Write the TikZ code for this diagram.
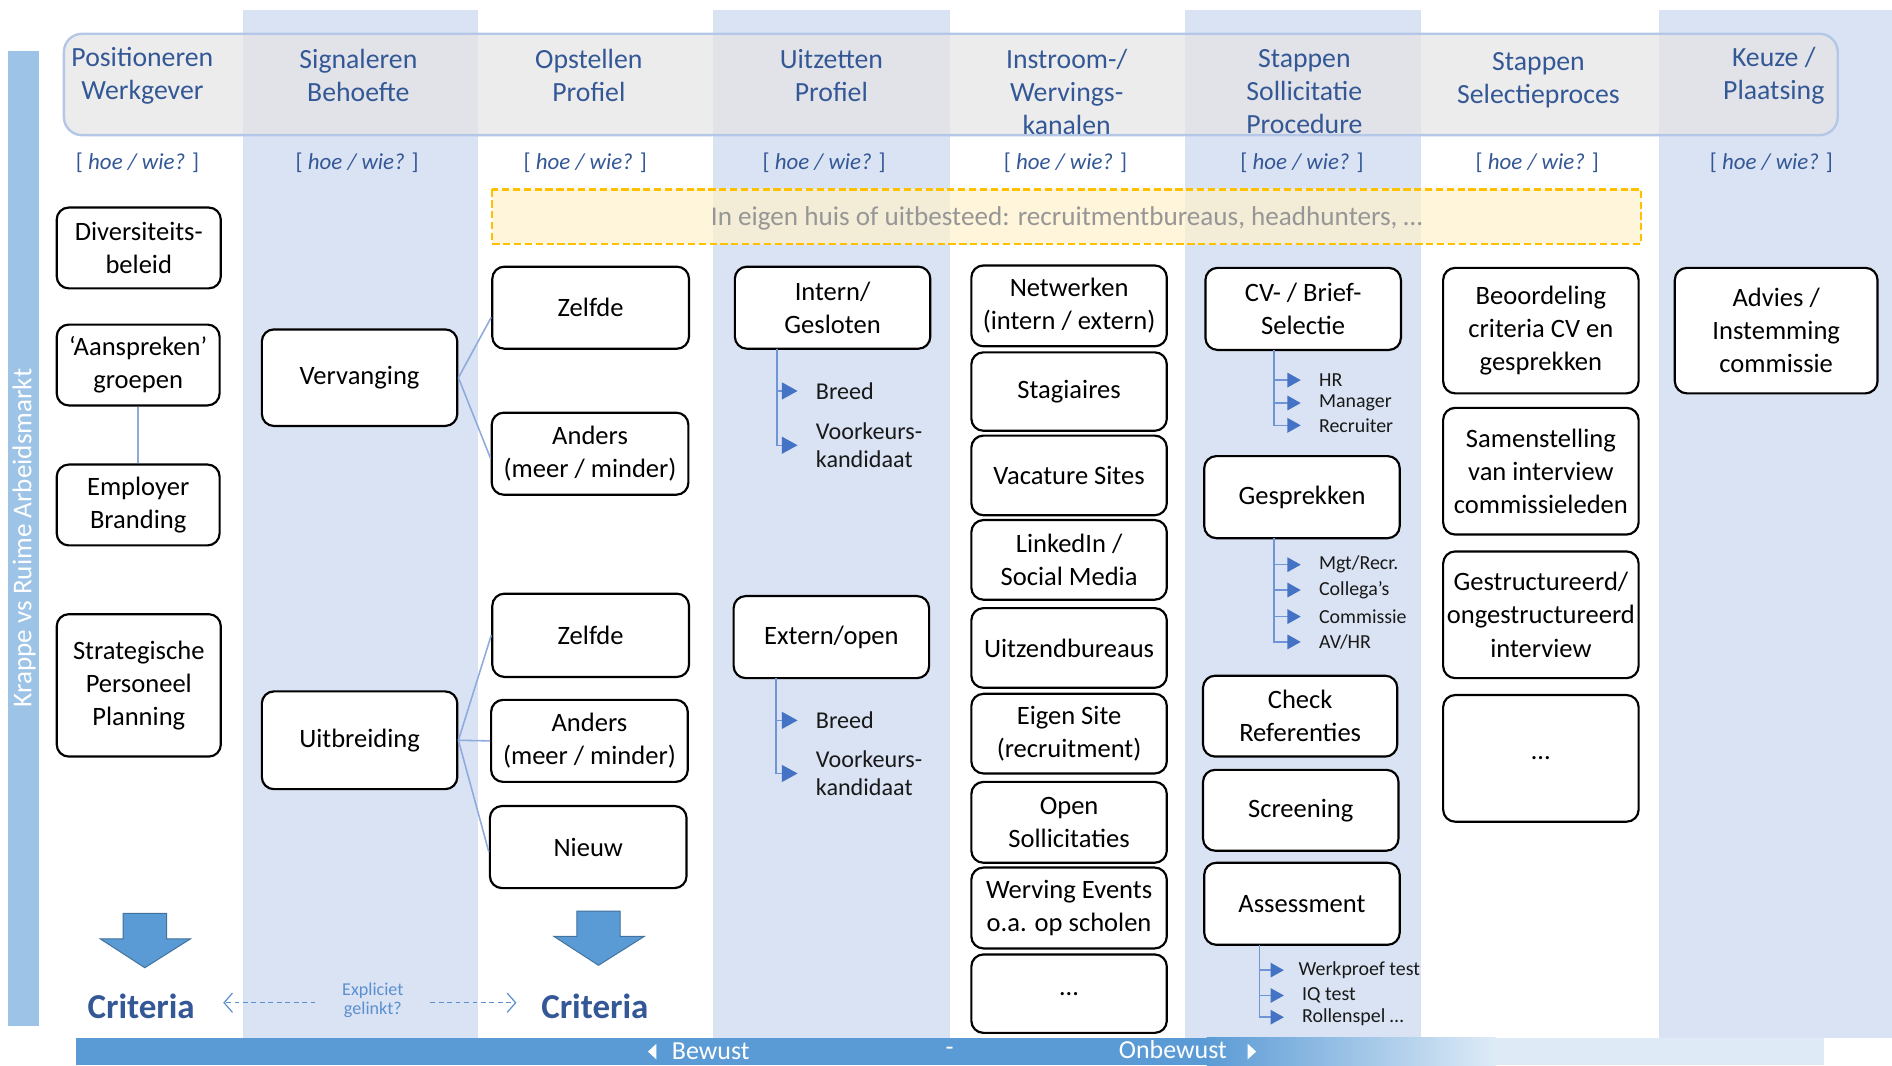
\documentclass[tikz,border=0pt]{standalone}
\usepackage{fontspec}
\setmainfont{Carlito}
\usetikzlibrary{arrows.meta,calc}
\definecolor{band}{HTML}{DAE3F3}
\definecolor{leftbar}{HTML}{9DC3E6}
\definecolor{hdrline}{HTML}{B4C7E7}
\definecolor{hdrfill}{HTML}{E4E4E4}
\definecolor{hdrtext}{RGB}{52,88,150}
\definecolor{ylwfill}{HTML}{FFF2CC}
\definecolor{ylwline}{HTML}{FFC000}
\definecolor{ylwtext}{RGB}{150,150,150}
\definecolor{arrfill}{HTML}{5B9BD5}
\definecolor{arrline}{HTML}{41719C}
\definecolor{barlight}{HTML}{DEEBF7}
\definecolor{linkcol}{HTML}{8FAADC}
\definecolor{blcol}{HTML}{6F95D6}
\definecolor{tricol}{HTML}{4472C4}
\definecolor{explcol}{HTML}{5B8FD0}
\newcommand\myfs[2]{\fontsize{#1}{#2}\selectfont}
\tikzset{
  box/.style={draw=black, line width=1.8pt, rounded corners=10pt, fill=white,
    align=center, inner sep=0pt, font=\myfs{22}{27.5}, text=black},
  hdr/.style={align=center, text=hdrtext, font=\myfs{23}{27.5}, inner sep=0pt},
  hoe/.style={text=hdrtext, font=\myfs{19}{22}, inner sep=0pt},
  sub/.style={anchor=west, align=left, inner sep=0pt, font=\myfs{20}{23}, text=black!90},
  subs/.style={anchor=west, align=left, inner sep=0pt, font=\myfs{16.5}{19.5}, text=black!90},
  bl/.style={draw=blcol, line width=1.2pt, -{Triangle[length=13pt,width=14pt,color=tricol]}, shorten >=15pt},
  bls/.style={draw=blcol, line width=1.2pt, -{Triangle[length=11pt,width=12pt,color=tricol]}, shorten >=15pt},
  link/.style={draw=linkcol, line width=1.3pt},
  downarr/.style={fill=arrfill, draw=arrline, line width=0.8pt},
  crit/.style={text=hdrtext, font=\myfs{29}{32}\bfseries, inner sep=0pt},
  dasharr/.style={draw=explcol, line width=1pt, dash pattern=on 4pt off 3pt, -{Straight Barb[length=7pt,width=16pt]}},
  bartext/.style={text=white, font=\myfs{21.5}{23}, inner sep=0pt},
}
\begin{document}
\begin{tikzpicture}[x=1pt,y=-1pt]
\useasboundingbox (0,0) rectangle (1568,883);
\fill[white] (0,0) rectangle (1568,883);
% column bands
\foreach \a/\b in {201/396, 591/787, 982/1178, 1375/1568}
  \fill[band] (\a,8) rectangle (\b,860);
% left vertical bar
\fill[leftbar] (7,42) rectangle (32,850);
\node[rotate=90, text=white, font=\myfs{22.5}{24}, inner sep=0pt] (market) at (20,446) {Krappe vs Ruime Arbeidsmarkt};
% header band
\filldraw[fill=hdrfill, fill opacity=0.7, draw=hdrline, line width=2pt, rounded corners=15pt] (53,28) rectangle (1523,112);
\node[hdr] (h1) at (118,62.5) {Positioneren\\Werkgever};
\node[hdr] (h2) at (297,62.5) {Signaleren\\Behoefte};
\node[hdr] (h3) at (488,62.5) {Opstellen\\Profiel};
\node[hdr] (h4) at (689,62.5) {Uitzetten\\Profiel};
\node[hdr] (h5) at (884,76) {Instroom-/\\Wervings-\\kanalen};
\node[hdr] (h6) at (1081,76) {Stappen\\Sollicitatie\\Procedure};
\node[hdr] (h7) at (1275,66.5) {Stappen\\Selectieproces};
\node[hdr] (h8) at (1470,62.5) {Keuze /\\Plaatsing};
% hoe / wie
\foreach \x [count=\i] in {114,296,485,683,883,1079,1274,1468}
  \node[hoe] (hoe\i) at (\x,135) {[ \textit{hoe / wie?} ]};
% yellow dashed box
\filldraw[fill=ylwfill, fill opacity=0.7, draw=ylwline, line width=1.8pt, dash pattern=on 6pt off 3pt] (408,157) rectangle (1360,202);
\node[text=ylwtext, font=\myfs{22.5}{24}, inner sep=0pt] (eigen) at (884,181) {In eigen huis of uitbesteed: recruitmentbureaus, headhunters, …};
% column 1
\node[box, minimum width=136pt, minimum height=67pt] (div) at (115,205.5) {Diversiteits-\\beleid};
\node[box, minimum width=135pt, minimum height=67pt] (aan) at (114.5,302.5) {‘Aanspreken’\\groepen};
\node[box, minimum width=135pt, minimum height=67pt] (emp) at (114.5,418.5) {Employer\\Branding};
\node[box, minimum width=136pt, minimum height=118pt] (strat) at (115,568) {Strategische\\Personeel\\Planning};
\draw[link] (aan) -- (emp);
% column 2
\node[box, minimum width=162pt, minimum height=80pt] (ver) at (298,313) {Vervanging};
\node[box, minimum width=162pt, minimum height=81pt] (uit) at (298,613.5) {Uitbreiding};
% column 3
\node[box, minimum width=163pt, minimum height=68pt] (zel1) at (489.5,255) {Zelfde};
\node[box, minimum width=163pt, minimum height=68pt] (and1) at (489,376) {Anders\\(meer / minder)};
\node[box, minimum width=163pt, minimum height=69pt] (zel2) at (489.5,526.5) {Zelfde};
\node[box, minimum width=163pt, minimum height=68pt] (and2) at (488.5,614) {Anders\\(meer / minder)};
\node[box, minimum width=163pt, minimum height=68pt] (nieuw) at (487.5,702) {Nieuw};
\draw[link] (ver.east) -- ([yshift=-8pt]zel1.west);
\draw[link] (ver.east) -- ([yshift=-4pt]and1.west);
\draw[link] (uit.east) -- (zel2.west);
\draw[link] (uit.east) -- (and2.west);
\draw[link] (uit.east) -- ([yshift=-4pt]nieuw.west);
% column 4
\node[box, minimum width=162pt, minimum height=68pt] (int) at (690,255) {Intern/\\Gesloten};
\node[box, minimum width=162pt, minimum height=68pt] (ext) at (689,528) {Extern/open};
\coordinate (c1) at (644,289);
\coordinate (c2) at (643,562);
\node[sub] (breed1) at (676,324) {Breed};
\node[sub] (voork1) at (676,369) {Voorkeurs-\\kandidaat};
\node[sub] (breed2) at (676,597) {Breed};
\node[sub] (voork2) at (676,641) {Voorkeurs-\\kandidaat};
\draw[bl] (c1) |- (breed1.west);
\draw[bl] (c1) |- (voork1.west);
\draw[bl] (c2) |- (breed2.west);
\draw[bl] (c2) |- (voork2.west);
% column 5
\node[box, minimum width=162pt, minimum height=67pt] (netw) at (886,253.5) {Netwerken\\(intern / extern)};
\node[box, minimum width=162pt, minimum height=65pt] (stag) at (886,324.5) {Stagiaires};
\node[box, minimum width=162pt, minimum height=66pt] (vac) at (886,394) {Vacature Sites};
\node[box, minimum width=162pt, minimum height=66pt] (lnk) at (886,464) {LinkedIn /\\Social Media};
\node[box, minimum width=162pt, minimum height=66pt] (uitz) at (886,537) {Uitzendbureaus};
\node[box, minimum width=162pt, minimum height=66pt] (eig) at (886,608) {Eigen Site\\(recruitment)};
\node[box, minimum width=162pt, minimum height=67pt] (open) at (886,681.5) {Open\\Sollicitaties};
\node[box, minimum width=162pt, minimum height=67pt] (werv) at (886,752.5) {Werving Events\\o.a. op scholen};
\node[box, minimum width=162pt, minimum height=65pt] (dots5) at (886,823.5) {…};
% column 6
\node[box, minimum width=162pt, minimum height=68pt] (cv) at (1080,256) {CV- / Brief-\\Selectie};
\node[box, minimum width=162pt, minimum height=68pt] (gesp) at (1079,412) {Gesprekken};
\node[box, minimum width=161pt, minimum height=67pt] (check) at (1077.5,593.5) {Check\\Referenties};
\node[box, minimum width=162pt, minimum height=67pt] (scr) at (1078,671.5) {Screening};
\node[box, minimum width=162pt, minimum height=68pt] (ass) at (1079,749) {Assessment};
\coordinate (c3) at (1056,290);
\coordinate (c4) at (1056,446);
\coordinate (c5) at (1044,783);
\node[subs] (hr) at (1093,315) {HR};
\node[subs] (man) at (1093,334) {Manager};
\node[subs] (rec) at (1093,352.5) {Recruiter};
\draw[bls] (c3) |- (hr.west);
\draw[bls] (c3) |- (man.west);
\draw[bls] (c3) |- (rec.west);
\node[subs] (mgt) at (1093,468) {Mgt/Recr.};
\node[subs] (colg) at (1093,489) {Collega’s};
\node[subs] (com) at (1093,511) {Commissie};
\node[subs] (av) at (1093,532) {AV/HR};
\draw[bls] (c4) |- (mgt.west);
\draw[bls] (c4) |- (colg.west);
\draw[bls] (c4) |- (com.west);
\draw[bls] (c4) |- (av.west);
\node[subs] (wp) at (1076,804) {Werkproef test};
\node[subs] (iq) at (1079,825) {IQ test};
\node[subs] (rol) at (1079,843) {Rollenspel …};
\draw[bls] (c5) |- ([xshift=3pt]wp.west);
\draw[bls] (c5) |- (iq.west);
\draw[bls] (c5) |- (rol.west);
% column 7
\node[box, minimum width=162pt, minimum height=104pt] (beo) at (1277,274) {Beoordeling\\criteria CV en\\gesprekken};
\node[box, minimum width=162pt, minimum height=105pt] (sam) at (1277,390.5) {Samenstelling\\van interview\\commissieleden};
\node[box, minimum width=162pt, minimum height=105pt] (gstr) at (1277,509.5) {Gestructureerd/\\ongestructureerd\\interview};
\node[box, minimum width=162pt, minimum height=105pt] (dots7) at (1277,628.5) {…};
% column 8
\node[box, minimum width=168pt, minimum height=104pt] (adv) at (1472,274) {Advies /\\Instemming\\commissie};
% down arrows
\filldraw[downarr] (102,757) -- (138,757) -- (138,778) -- (158,778) -- (120,802) -- (83,778) -- (102,778) -- cycle;
\filldraw[downarr] (478,755) -- (514,755) -- (514,776) -- (534,776) -- (496,800) -- (459,776) -- (478,776) -- cycle;
\node[crit] (crit1) at (117,834) {Criteria};
\node[crit] (crit2) at (493,834) {Criteria};
\node[align=center, text=explcol, font=\myfs{15}{16.5}, inner sep=0pt] (expl) at (309,829) {Expliciet\\gelinkt?};
\coordinate (la) at (185,831);
\coordinate (ra) at (428,831);
\draw[dasharr] (expl.west |- la) ++(-22pt,0) -- (la);
\draw[dasharr] (expl.east |- ra) ++(22pt,0) -- (ra);
% bottom bar
\fill[arrfill] (63,860) rectangle (1000,883);
\shade[left color=arrfill, right color=barlight] (1000,860) rectangle (1240,883);
\fill[barlight] (1240,860) rectangle (1512,883);
\fill[white] (544,865) -- (544,878) -- (537,871.5) -- cycle;
\fill[white] (1034,865) -- (1034,878) -- (1041,871.5) -- cycle;
\node[bartext] (bew) at (589,871) {Bewust};
\node[bartext] (dash) at (787,871) {-};
\node[bartext] (onb) at (972,870) {Onbewust};
\end{tikzpicture}
\end{document}
